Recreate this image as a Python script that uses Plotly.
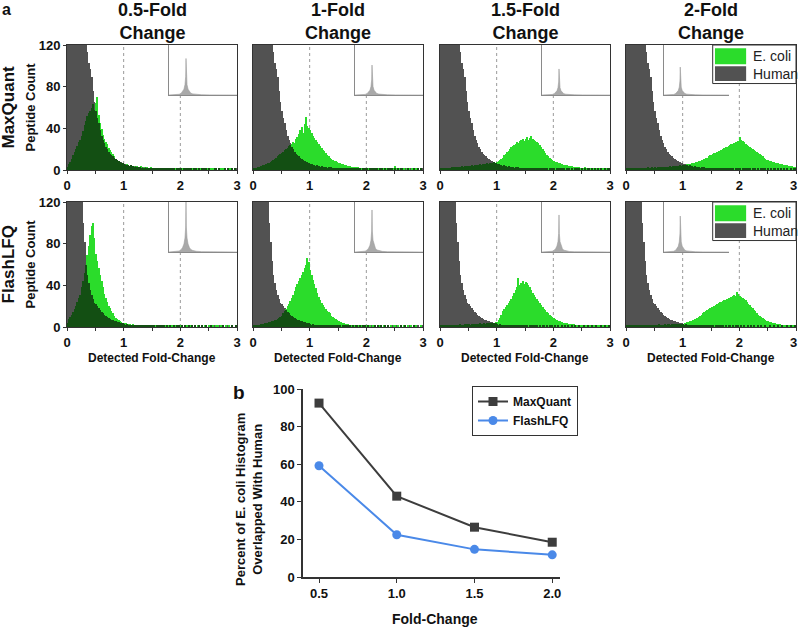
import numpy as np
import plotly.graph_objects as go

# ---------------- data ----------------
BIN_W = 0.025  # histogram bin width (fold-change units), 120 bins over 0-3
FOLD_TITLES = ["0.5-Fold<br>Change", "1-Fold<br>Change", "1.5-Fold<br>Change", "2-Fold<br>Change"]
METHODS = ["MaxQuant", "FlashLFQ"]

HUMAN_MQ = [
    320, 640, 900, 1000, 920, 730, 520, 390, 290, 215,
    175, 148, 133, 121, 113, 103, 97, 89, 76, 65,
    57, 50, 45, 38, 33, 29, 26, 22, 20, 17,
    15, 14, 13, 12, 11, 10, 9, 8, 8, 7,
    6, 6, 5, 5, 4, 5, 4, 3, 4, 3,
    3, 3, 2, 3, 2, 3, 2, 2, 2, 2,
    2, 1, 2, 1, 1, 2, 1, 1, 2, 1,
    1, 1, 2, 1, 1, 1, 0, 1, 1, 1,
    1, 0, 1, 1, 1, 0, 1, 1, 0, 1,
    1, 1, 0, 1, 0, 1, 1, 0, 1, 0,
    1, 0, 1, 0, 1, 1, 0, 1, 0, 1,
    0, 1, 0, 1, 0, 0, 1, 0, 1, 1,
]
HUMAN_FL = [
    330, 720, 1100, 1300, 1120, 820, 560, 390, 265, 185,
    132, 100, 82, 63, 50, 42, 36, 31, 27, 23,
    22, 20, 18, 16, 14, 13, 12, 11, 10, 9,
    8, 7, 7, 6, 6, 5, 5, 4, 4, 4,
    3, 2, 3, 2, 2, 2, 2, 1, 2, 2,
    1, 2, 1, 1, 2, 1, 1, 1, 1, 1,
    1, 1, 0, 1, 1, 1, 0, 1, 1, 0,
    1, 0, 1, 1, 0, 1, 0, 1, 0, 1,
    0, 1, 0, 1, 0, 0, 1, 0, 1, 0,
    1, 0, 0, 1, 0, 1, 0, 0, 1, 0,
    0, 1, 0, 0, 1, 0, 0, 1, 0, 0,
    1, 0, 0, 1, 0, 0, 1, 0, 0, 1,
]

ECOLI_MQ_05 = [
    3, 6, 8, 11, 14, 17, 20, 23, 27, 29,
    33, 37, 43, 47, 52, 55, 57, 60, 63, 58,
    64, 70, 53, 45, 39, 34, 30, 27, 25, 21,
    19, 17, 15, 13, 11, 10, 9, 8, 7, 7,
    6, 5, 6, 5, 4, 5, 4, 4, 3, 4,
    3, 3, 4, 2, 3, 2, 3, 2, 2, 3,
    2, 2, 1, 2, 2, 1, 2, 2, 1, 2,
    2, 1, 2, 1, 1, 2, 1, 1, 2, 1,
    1, 2, 1, 1, 1, 2, 1, 1, 1, 1,
    1, 1, 2, 1, 1, 1, 1, 0, 1, 1,
    1, 1, 0, 1, 1, 1, 0, 1, 1, 0,
    1, 1, 0, 1, 0, 1, 1, 0, 1, 0,
]
ECOLI_MQ_10 = [
    1, 2, 2, 3, 3, 4, 4, 5, 5, 6,
    7, 7, 8, 9, 10, 11, 12, 13, 14, 15,
    16, 17, 19, 20, 21, 23, 24, 25, 27, 26,
    30, 32, 35, 38, 41, 36, 44, 51, 42, 40,
    38, 36, 33, 31, 29, 27, 25, 23, 21, 19,
    18, 16, 14, 13, 12, 11, 10, 9, 9, 8,
    7, 7, 6, 6, 5, 5, 4, 4, 4, 3,
    3, 3, 3, 2, 3, 2, 2, 2, 2, 2,
    2, 1, 2, 2, 1, 2, 1, 1, 2, 1,
    1, 2, 1, 1, 2, 1, 2, 1, 1, 1,
    4, 1, 1, 2, 1, 1, 1, 0, 1, 1,
    1, 0, 1, 1, 0, 1, 1, 0, 1, 0,
]
ECOLI_MQ_15 = [
    1, 1, 1, 2, 2, 2, 2, 2, 3, 3,
    3, 3, 3, 3, 3, 4, 3, 4, 4, 4,
    4, 4, 5, 4, 5, 5, 5, 5, 6, 5,
    6, 6, 6, 7, 6, 7, 7, 7, 8, 7,
    8, 9, 10, 11, 12, 14, 15, 17, 18, 20,
    22, 23, 24, 25, 27, 26, 28, 29, 30, 28,
    30, 32, 29, 31, 33, 30, 29, 28, 27, 26,
    24, 22, 20, 18, 16, 14, 13, 12, 11, 10,
    9, 8, 8, 7, 7, 6, 6, 5, 5, 5,
    4, 4, 4, 4, 3, 3, 3, 3, 3, 2,
    2, 2, 3, 2, 2, 2, 2, 1, 2, 2,
    1, 2, 1, 1, 2, 1, 1, 1, 2, 1,
]
ECOLI_MQ_20 = [
    1, 1, 1, 1, 2, 1, 2, 2, 1, 2,
    2, 2, 2, 2, 2, 3, 2, 2, 3, 2,
    3, 2, 3, 3, 3, 3, 3, 3, 3, 3,
    3, 4, 3, 4, 4, 4, 4, 4, 5, 4,
    5, 5, 5, 6, 6, 6, 7, 7, 7, 8,
    8, 9, 9, 10, 10, 11, 12, 12, 13, 14,
    14, 15, 16, 16, 17, 18, 18, 19, 20, 21,
    22, 22, 23, 24, 25, 25, 26, 27, 26, 28,
    32, 29, 28, 27, 25, 24, 23, 22, 21, 20,
    19, 18, 17, 16, 15, 14, 13, 12, 11, 10,
    10, 9, 9, 8, 8, 7, 7, 7, 6, 6,
    6, 5, 5, 5, 4, 4, 4, 4, 3, 3,
]
ECOLI_FL_05 = [
    4, 8, 10, 12, 14, 17, 20, 24, 28, 31,
    38, 44, 52, 60, 69, 78, 88, 97, 100, 85,
    70, 63, 57, 50, 44, 38, 32, 28, 24, 20,
    18, 15, 13, 11, 9, 8, 7, 6, 5, 4,
    4, 4, 3, 3, 3, 2, 3, 2, 2, 2,
    2, 2, 1, 2, 2, 1, 2, 1, 1, 2,
    1, 2, 1, 1, 1, 1, 2, 1, 1, 1,
    1, 1, 1, 0, 1, 1, 1, 1, 0, 1,
    1, 1, 0, 1, 1, 0, 1, 1, 1, 0,
    1, 0, 1, 1, 0, 1, 0, 1, 1, 0,
    1, 1, 0, 1, 0, 1, 1, 0, 1, 0,
    1, 0, 1, 0, 1, 0, 1, 0, 0, 1,
]
ECOLI_FL_10 = [
    1, 1, 2, 2, 2, 3, 3, 3, 4, 4,
    4, 5, 5, 6, 6, 7, 7, 8, 9, 10,
    11, 13, 15, 17, 20, 22, 25, 28, 31, 35,
    38, 41, 44, 47, 50, 53, 57, 60, 66, 62,
    55, 50, 45, 41, 37, 33, 29, 26, 23, 21,
    19, 17, 15, 14, 13, 11, 10, 9, 8, 7,
    6, 5, 5, 4, 4, 3, 3, 3, 2, 2,
    2, 2, 2, 1, 2, 1, 1, 2, 1, 1,
    1, 1, 1, 0, 1, 1, 1, 0, 1, 1,
    1, 0, 1, 1, 0, 1, 0, 1, 0, 1,
    1, 0, 1, 0, 1, 0, 1, 1, 0, 1,
    0, 1, 0, 1, 0, 1, 0, 0, 1, 0,
]
ECOLI_FL_15 = [
    1, 1, 1, 1, 2, 1, 2, 1, 2, 2,
    2, 2, 2, 2, 3, 2, 2, 3, 2, 3,
    3, 2, 3, 3, 3, 3, 3, 3, 4, 3,
    3, 4, 3, 4, 4, 4, 4, 4, 4, 5,
    5, 7, 9, 12, 15, 17, 19, 21, 23, 25,
    27, 30, 33, 36, 38, 47, 40, 42, 44, 41,
    43, 42, 40, 38, 36, 33, 31, 29, 27, 25,
    23, 21, 19, 17, 16, 14, 13, 12, 11, 10,
    9, 8, 7, 6, 6, 5, 5, 4, 4, 4,
    3, 3, 3, 3, 3, 2, 2, 2, 2, 2,
    2, 2, 1, 2, 2, 1, 2, 1, 1, 2,
    1, 1, 1, 2, 1, 1, 1, 1, 1, 1,
]
ECOLI_FL_20 = [
    1, 1, 1, 1, 1, 1, 2, 1, 1, 2,
    1, 2, 1, 2, 2, 1, 2, 2, 2, 2,
    2, 2, 2, 3, 2, 2, 2, 3, 2, 3,
    3, 2, 3, 3, 3, 3, 3, 3, 3, 3,
    3, 4, 4, 5, 5, 6, 6, 7, 8, 8,
    9, 10, 11, 12, 13, 14, 15, 16, 17, 18,
    19, 19, 20, 21, 22, 23, 24, 24, 25, 26,
    26, 27, 28, 28, 29, 30, 31, 30, 34, 32,
    30, 29, 28, 27, 26, 24, 22, 21, 19, 18,
    16, 15, 13, 12, 11, 10, 9, 8, 7, 6,
    6, 5, 5, 4, 4, 4, 3, 3, 3, 2,
    2, 2, 2, 2, 1, 2, 1, 1, 1, 1,
]

# inset: zoomed-out human histogram (inset-local x 0..1)
INSET_X = [0.0, 0.10, 0.15, 0.18, 0.20, 0.22, 0.235, 0.245, 0.25, 0.255, 0.265, 0.28, 0.30, 0.32, 0.35, 0.40, 0.48, 0.6, 1.0]
INSET_Y = [0, 0.5, 2, 5, 9, 16, 28, 50, 100, 50, 28, 16, 9, 5, 3, 1.5, 0.7, 0.3, 0]

# panel b
OVERLAP_X = [0.5, 1.0, 1.5, 2.0]
OVERLAP_MQ = [92.5, 43.0, 26.5, 18.5]
OVERLAP_FL = [59.2, 22.5, 14.7, 11.8]

HUMAN = [HUMAN_MQ, HUMAN_FL]
ECOLI = [[ECOLI_MQ_05, ECOLI_MQ_10, ECOLI_MQ_15, ECOLI_MQ_20],
         [ECOLI_FL_05, ECOLI_FL_10, ECOLI_FL_15, ECOLI_FL_20]]

# ---------------- layout geometry ----------------
W, H = 800, 628
FONT = "Liberation Sans, Arial, sans-serif"
COL_L = [67, 253, 440, 626]
PW = 170
ROW_T = [45, 202]
PH = 125
INSET_YMAX = [[137, 167, 192, 179], [100, 119, 135, 139]]

C_HUMAN = "#525252"
C_ECOLI = "#2bdc2b"
C_OVER = "#134f13"
C_AXIS = "#333333"


def fx(p):
    return p / W


def fy(p):
    return 1 - p / H


def ax_key(kind, i):
    return f"{kind}axis" if i == 1 else f"{kind}axis{i}"


def ax_ref(kind, i):
    return kind if i == 1 else f"{kind}{i}"


fig = go.Figure()
layout = {}
shapes = []
annotations = []

centers = (np.arange(120) + 0.5) * BIN_W
tickvals_x = [0, 0.5, 1, 1.5, 2, 2.5, 3]
ticktext_x = ["0", "", "1", "", "2", "", "3"]
ticktext_last = ["0", "", "1", "", "2", "", ""]

for r in range(2):
    for c in range(4):
        i = r * 4 + c + 1
        j = 8 + i
        L, T = COL_L[c], ROW_T[r]
        hum = np.array(HUMAN[r], dtype=float)
        eco = np.array(ECOLI[r][c], dtype=float)
        over = np.minimum(hum, eco)
        for vals, col in [(hum, C_HUMAN), (eco, C_ECOLI), (over, C_OVER)]:
            fig.add_trace(go.Bar(x=centers, y=vals, width=BIN_W, marker=dict(color=col, line=dict(width=0)),
                                 xaxis=ax_ref("x", i), yaxis=ax_ref("y", i), showlegend=False, hoverinfo="skip"))
        layout[ax_key("x", i)] = dict(
            domain=[fx(L), fx(L + PW)], range=[0, 3], anchor=ax_ref("y", i),
            showline=True, mirror=True, linecolor=C_AXIS, linewidth=1,
            ticks="outside", ticklen=3, tickcolor=C_AXIS, tickvals=tickvals_x,
            ticktext=ticktext_x if c < 3 else ticktext_last,
            tickfont=dict(family=FONT, size=13, color="#111", weight="bold"),
            showgrid=False, zeroline=False, fixedrange=True)
        layout[ax_key("y", i)] = dict(
            domain=[fy(T + PH), fy(T)], range=[0, 120], anchor=ax_ref("x", i),
            showline=True, mirror=True, linecolor=C_AXIS, linewidth=1,
            ticks="outside" if c == 0 else "", ticklen=3, tickcolor=C_AXIS,
            tickvals=[0, 40, 80, 120], showticklabels=(c == 0),
            tickfont=dict(family=FONT, size=13, color="#111", weight="bold"),
            showgrid=False, zeroline=False, fixedrange=True)

        # last tick label of the right-most panel (kept inside the page)
        if c == 3:
            annotations.append(dict(text="<b>3</b>", xref="paper", yref="paper", x=fx(L + PW + 3),
                                    y=fy(T + PH + 15), xanchor="right", yanchor="middle", showarrow=False,
                                    font=dict(family=FONT, size=13, color="#111")))

        # inset placement (in main-panel data units)
        ix0, ix1 = (1.8, 3.0) if c < 3 else (0.67, 1.82)
        iy0, iy1 = 72, 120
        px0 = L + ix0 / 3 * PW
        px1 = L + ix1 / 3 * PW
        py0 = T + (1 - iy0 / 120) * PH
        py1 = T + (1 - iy1 / 120) * PH
        fig.add_trace(go.Scatter(x=INSET_X, y=INSET_Y, mode="lines", fill="tozeroy",
                                 fillcolor="#a9a9a9", line=dict(color="#9c9c9c", width=0.6),
                                 xaxis=ax_ref("x", j), yaxis=ax_ref("y", j), showlegend=False, hoverinfo="skip"))
        layout[ax_key("x", j)] = dict(domain=[fx(px0), fx(px1)], range=[0, 1], anchor=ax_ref("y", j),
                                      showline=True, linecolor="#8a8a8a", linewidth=1, showticklabels=False,
                                      ticks="", showgrid=False, zeroline=False, fixedrange=True)
        layout[ax_key("y", j)] = dict(domain=[fy(py0), fy(py1)], range=[0, INSET_YMAX[r][c]], anchor=ax_ref("x", j),
                                      showline=True, linecolor="#8a8a8a", linewidth=1, showticklabels=False,
                                      ticks="", showgrid=False, zeroline=False, fixedrange=True)

        # dotted reference lines at 1 and 2
        for xv in [1, 2]:
            top = 120
            if ix0 < xv < ix1:
                top = iy0
            if c == 3 and xv == 2:
                top = 83
            shapes.append(dict(type="line", xref=ax_ref("x", i), yref=ax_ref("y", i), x0=xv, x1=xv, y0=0, y1=top,
                               line=dict(color="#9a9a9a", width=1, dash="dot"), layer="below"))

        # histogram legend in last column
        if c == 3:
            xr, yr = ax_ref("x", i), ax_ref("y", i)
            shapes.append(dict(type="rect", xref=xr, yref=yr, x0=1.53, x1=3.0, y0=83, y1=120,
                               line=dict(color=C_AXIS, width=1), fillcolor="white", layer="above"))
            shapes.append(dict(type="rect", xref=xr, yref=yr, x0=1.57, x1=2.12, y0=101.5, y1=117,
                               line=dict(width=0), fillcolor=C_ECOLI, layer="above"))
            shapes.append(dict(type="rect", xref=xr, yref=yr, x0=1.57, x1=2.12, y0=85.5, y1=99.5,
                               line=dict(width=0), fillcolor=C_HUMAN, layer="above"))
            for txt, yv in [("E. coli", 109), ("Human", 92.5)]:
                annotations.append(dict(text=txt, xref=xr, yref=yr, x=2.2, y=yv, xanchor="left", yanchor="middle",
                                        showarrow=False, font=dict(family=FONT, size=14, color="#222")))

        if r == 1:
            annotations.append(dict(text="Detected Fold-Change", xref="paper", yref="paper",
                                    x=fx(L + PW / 2), y=fy(358), xanchor="center", yanchor="middle",
                                    showarrow=False, font=dict(family=FONT, size=12, color="#111", weight="bold")))
        if r == 0:
            annotations.append(dict(text=FOLD_TITLES[c], xref="paper", yref="paper",
                                    x=fx(L + PW / 2), y=fy(21), xanchor="center", yanchor="middle",
                                    showarrow=False, font=dict(family=FONT, size=18, color="#111", weight="bold")))

    # row labels
    cy = ROW_T[r] + PH / 2
    annotations.append(dict(text=METHODS[r], xref="paper", yref="paper", x=fx(8), y=fy(cy), textangle=-90,
                            xanchor="center", yanchor="middle", showarrow=False,
                            font=dict(family=FONT, size=17, color="#111", weight="bold")))
    annotations.append(dict(text="Peptide Count", xref="paper", yref="paper", x=fx(30), y=fy(cy), textangle=-90,
                            xanchor="center", yanchor="middle", showarrow=False,
                            font=dict(family=FONT, size=13, color="#111", weight="bold")))

# ---------------- panel b ----------------
k = 17
fig.add_trace(go.Scatter(x=OVERLAP_X, y=OVERLAP_MQ, name="MaxQuant", mode="lines+markers",
                         line=dict(color="#3d3d3d", width=2), marker=dict(symbol="square", size=9, color="#3d3d3d"),
                         xaxis=ax_ref("x", k), yaxis=ax_ref("y", k)))
fig.add_trace(go.Scatter(x=OVERLAP_X, y=OVERLAP_FL, name="FlashLFQ", mode="lines+markers",
                         line=dict(color="#4a89e8", width=2), marker=dict(symbol="circle", size=9, color="#4a89e8"),
                         xaxis=ax_ref("x", k), yaxis=ax_ref("y", k)))
layout[ax_key("x", k)] = dict(domain=[fx(303), fx(560)], range=[0.397, 2.05], anchor=ax_ref("y", k),
                              showline=True, linecolor=C_AXIS, linewidth=1.5, ticks="outside", ticklen=4,
                              tickcolor=C_AXIS, tickvals=OVERLAP_X, ticktext=["0.5", "1.0", "1.5", "2.0"],
                              tickfont=dict(family=FONT, size=13, color="#111", weight="bold"),
                              showgrid=False, zeroline=False, fixedrange=True)
layout[ax_key("y", k)] = dict(domain=[fy(577), fy(389)], range=[0, 100], anchor=ax_ref("x", k),
                              showline=True, linecolor=C_AXIS, linewidth=1.5, ticks="outside", ticklen=4,
                              tickcolor=C_AXIS, tickvals=[0, 20, 40, 60, 80, 100],
                              tickfont=dict(family=FONT, size=13, color="#111", weight="bold"),
                              showgrid=False, zeroline=False, fixedrange=True)
annotations.append(dict(text="Percent of E. coli Histogram<br>Overlapped With Human", xref="paper", yref="paper",
                        x=fx(249), y=fy(500), textangle=-90, xanchor="center", yanchor="middle", showarrow=False,
                        font=dict(family=FONT, size=13, color="#111", weight="bold")))
annotations.append(dict(text="Fold-Change", xref="paper", yref="paper", x=fx(435), y=fy(619),
                        xanchor="center", yanchor="middle", showarrow=False,
                        font=dict(family=FONT, size=14, color="#111", weight="bold")))
annotations.append(dict(text="a", xref="paper", yref="paper", x=fx(6), y=fy(9), xanchor="center", yanchor="middle",
                        showarrow=False, font=dict(family=FONT, size=16, color="#111", weight="bold")))
annotations.append(dict(text="b", xref="paper", yref="paper", x=fx(239), y=fy(392), xanchor="center",
                        yanchor="middle", showarrow=False, font=dict(family=FONT, size=19, color="#111", weight="bold")))

fig.update_layout(
    width=W, height=H, autosize=False,
    margin=dict(l=0, r=0, t=0, b=0, autoexpand=False),
    paper_bgcolor="white", plot_bgcolor="white",
    barmode="overlay", bargap=0,
    showlegend=True,
    legend=dict(x=fx(472), y=fy(386), xanchor="left", yanchor="top", bgcolor="white",
                bordercolor=C_AXIS, borderwidth=1, itemwidth=30, tracegroupgap=0,
                font=dict(family=FONT, size=12, color="#111", weight="bold")),
    shapes=shapes, annotations=annotations,
    **layout,
)

fig.write_html("out.html", config={"displayModeBar": False},
               post_script="document.body.style.margin='0';document.body.style.overflow='hidden';")
